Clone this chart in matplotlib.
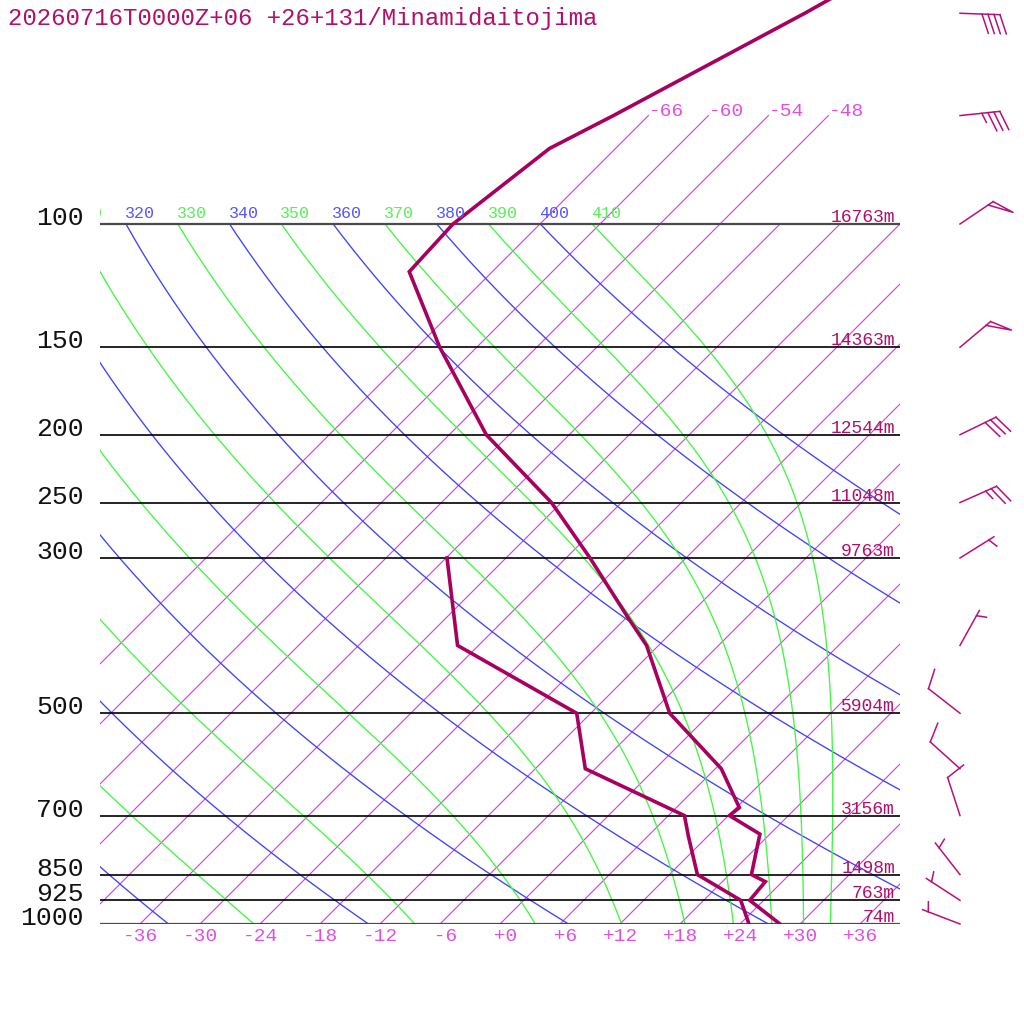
import numpy as np
import matplotlib
matplotlib.use("Agg")
import matplotlib.pyplot as plt
from matplotlib import transforms

plt.rcParams['font.family'] = ['Liberation Mono', 'DejaVu Sans Mono']

TITLE = "20260716T0000Z+06 +26+131/Minamidaitojima"

# sounding (hPa, degC)
TEMP_P = [1000, 925, 870, 850, 744, 700, 682, 600, 500, 400, 366, 300,
          250, 200, 150, 117, 100, 78, 70, 50, 40]
TEMP_T = [28.0, 22.6, 22.3, 20.2, 17.0, 12.1, 12.3, 6.6, -4.1, -13.2, -17.7, -27.6,
          -37.0, -50.3, -63.7, -74.3, -74.7, -72.6, -69.5, -60.6, -55.3]
DEWP_P = [1000, 925, 850, 750, 700, 600, 500, 400, 300]
DEWP_T = [24.9, 21.7, 14.8, 10.1, 7.6, -7.0, -13.4, -32.1, -41.9]

# standard levels and their heights
LEVELS = [100, 150, 200, 250, 300, 500, 700, 850, 925, 1000]
HEIGHTS = ["16763m", "14363m", "12544m", "11048m", "9763m",
           "5904m", "3156m", "1498m", "763m", "74m"]

# wind (direction deg, speed kt)
WIND_P = [1000, 925, 850, 700, 600, 500, 400, 300, 250, 200, 150, 100, 70, 50]
WIND_DIR = [291, 303, 322, 342, 312, 308, 29, 58, 66, 64, 50, 56, 84, 92]
WIND_SPD = [5, 5, 5, 10, 10, 10, 5, 5, 25, 30, 50, 50, 35, 40]

# background lines
ISOTHERMS = list(range(-66, 37, 6))
TEMP_TICKS = list(range(-36, 37, 6))
TOP_ISOTHERMS = [-66, -60, -54, -48]
DRY_THETA = list(range(240, 401, 20))
MOIST_THETA = list(range(250, 411, 20))
THETA_LABELS = list(range(310, 411, 10))

SKEW = 70.0
KAPPA = 0.2857
P_TOP = 1000.0 * 10 ** (-924.0 / 700.0)

C_PROFILE = '#a8005e'
C_TEXT = '#b0106a'
C_ISO = '#d83ce6'
C_ISO_LBL = '#e050e0'
C_DRY = '#4040ff'
C_MOIST = '#40f840'


def skew_x(t, p):
    return np.asarray(t, dtype=float) + SKEW * np.log10(1000.0 / np.asarray(p, dtype=float))


def lapse(t, p):
    es = 6.112 * np.exp(17.67 * (t - 273.15) / (t - 29.65))
    rs = 0.622 * es / (p - es)
    return (287.04 * t + 2.501e6 * rs) / (p * (1005.7 + 2.501e6 ** 2 * rs * 0.622 / (287.04 * t ** 2)))


def moist_adiabat(theta, plev):
    t = theta * (plev[0] / 1000.0) ** KAPPA
    out = [t]
    for i in range(1, len(plev)):
        dp = plev[i] - plev[i - 1]
        k1 = lapse(t, plev[i - 1])
        k2 = lapse(t + k1 * dp / 2, plev[i - 1] + dp / 2)
        t = t + k2 * dp
        out.append(t)
    return np.array(out) - 273.15


fig = plt.figure(figsize=(10.24, 10.24), dpi=100)
ax = fig.add_axes([100 / 1024, 100 / 1024, 800 / 1024, 924 / 1024])
ax.set_yscale('log')
ax.set_xlim(-40, 40)
ax.set_ylim(1000, P_TOP)
ax.axis('off')

plev = np.linspace(100, 1000, 901)

# isotherms
for t in ISOTHERMS:
    ptop = 70 if t <= -48 else 100
    pp = np.array([1000, ptop])
    ax.plot(skew_x([t, t], pp), pp, color=C_ISO, lw=0.8)
for t in TOP_ISOTHERMS:
    ax.text(skew_x(t, 70), 70, str(t), color=C_ISO_LBL,
            fontsize=14, ha='left', va='baseline')

# dry adiabats
for th in DRY_THETA:
    tt = th * (plev / 1000.0) ** KAPPA - 273.15
    ax.plot(skew_x(tt, plev), plev, color=C_DRY, lw=0.95)

# moist adiabats
for th in MOIST_THETA:
    tt = moist_adiabat(th, plev)
    ax.plot(skew_x(tt, plev), plev, color=C_MOIST, lw=0.95)

lbl_tr = transforms.offset_copy(ax.transData, fig=fig, x=-1, y=6, units='dots')
for th in THETA_LABELS:
    c = '#5555ff' if th % 20 == 0 else '#55f055'
    x = skew_x(th * 0.1 ** KAPPA - 273.15, 100)
    ax.text(x, 100, str(th), color=c, fontsize=12, ha='left', va='baseline',
            transform=lbl_tr, clip_on=True)

# isobars
for p in LEVELS:
    if p in (100, 1000):
        ax.plot([-40, 40], [p, p], color='#4a4a4a', lw=1.6)
    else:
        ax.plot([-40, 40], [p, p], color='black', lw=1.2)

# pressure labels
pl_tr = transforms.offset_copy(ax.transData, fig=fig, x=-16, y=-1, units='dots')
for p in LEVELS:
    ax.text(-40, p, str(p), fontsize=19, color='#111111', ha='right', va='baseline',
            transform=pl_tr, clip_on=False)

# height labels
h_tr = transforms.offset_copy(ax.transData, fig=fig, x=0, y=2, units='dots')
for p, h in zip(LEVELS, HEIGHTS):
    ax.text(39.5, p, h, fontsize=13, color=C_TEXT, ha='right', va='baseline',
            transform=h_tr, clip_on=False)

# temperature labels along the bottom
t_tr = transforms.offset_copy(ax.transData, fig=fig, x=0, y=-4, units='dots')
for t in TEMP_TICKS:
    ax.text(t, 1000, f"{t:+3d}", fontsize=14, color=C_ISO_LBL, ha='center', va='top',
            transform=t_tr, clip_on=False)

# sounding
ax.plot(skew_x(TEMP_T, TEMP_P), TEMP_P, color=C_PROFILE, lw=2.6, solid_joinstyle='miter')
ax.plot(skew_x(DEWP_T, DEWP_P), DEWP_P, color=C_PROFILE, lw=2.6, solid_joinstyle='miter')

# wind barbs, drawn in pixels from the base point
BARB_X = 46.0
STAFF = 40.0
ident = transforms.IdentityTransform()


def draw_barb(p, wdir, spd, color='#b8107a'):
    bx, by = ax.transData.transform((BARB_X, p))
    a = np.deg2rad(wdir)
    d = np.array([np.sin(a), np.cos(a)])
    n = np.array([d[1], -d[0]])
    base = np.array([bx, by])

    def pt(s, h):
        return base + s * d + h * n

    segs = [[pt(0, 0), pt(STAFF, 0)]]
    flags = spd // 50
    full = (spd % 50) // 10
    half = (spd % 10) // 5
    s = STAFF
    for _ in range(flags):
        segs.append([pt(s, 0), pt(s + 10.5, 20), pt(s - 6, 0)])
        s -= 10
    for _ in range(full):
        segs.append([pt(s, 0), pt(s + 7, 19)])
        s -= 6
    if half:
        if s == STAFF:
            s -= 6
        segs.append([pt(s, 0), pt(s + 3.5, 9.5)])
    for seg in segs:
        seg = np.array(seg)
        ax.plot(seg[:, 0], seg[:, 1], color=color, lw=1.1, transform=ident, clip_on=False)


for p, wd, ws in zip(WIND_P, WIND_DIR, WIND_SPD):
    draw_barb(p, wd, ws)

fig.text(8 / 1024, 1 - 25 / 1024, TITLE, fontsize=17.3, color=C_TEXT, ha='left', va='baseline')

fig.savefig('out.png', dpi=100, facecolor='white')
